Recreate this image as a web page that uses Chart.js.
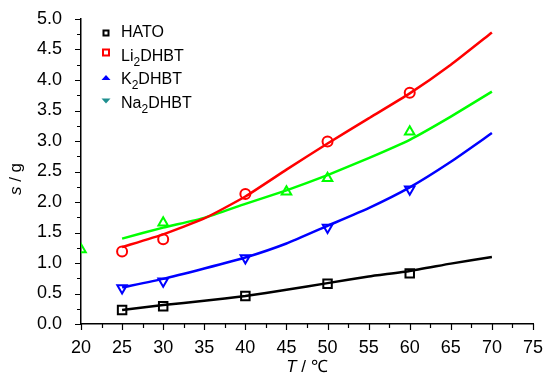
<!DOCTYPE html>
<html><head><meta charset="utf-8">
<script src="https://cdn.jsdelivr.net/npm/chart.js@4"></script>
<style>html,body{margin:0;padding:0;background:#fff}#wrap{width:545px;height:374px;position:relative}</style>
</head><body><div id="wrap"><canvas id="c" width="545" height="374"></canvas></div>
<script>
// ---- data ----
const lineT      = [25, 30, 35, 40, 45, 50, 55, 60, 65, 70];
const hatoLine   = [0.23, 0.31, 0.38, 0.46, 0.56, 0.67, 0.78, 0.87, 0.99, 1.10];
const liLine     = [1.26, 1.47, 1.73, 2.09, 2.53, 2.96, 3.37, 3.78, 4.25, 4.78];
const kLine      = [0.60, 0.74, 0.91, 1.09, 1.32, 1.61, 1.90, 2.24, 2.66, 3.13];
const naLine     = [1.40, 1.58, 1.74, 1.97, 2.19, 2.44, 2.72, 3.02, 3.40, 3.81];

const hatoMarkT  = [25, 30, 40, 50, 60];
const hatoMark   = [0.23, 0.29, 0.46, 0.66, 0.83];
const liMarkT    = [25, 30, 40, 50, 60];
const liMark     = [1.19, 1.39, 2.13, 2.99, 3.79];
const kMarkT     = [25, 30, 40, 50, 60];
const kMark      = [0.59, 0.70, 1.08, 1.58, 2.21];
const naMarkT    = [20, 30, 45, 50, 60];
const naMark     = [1.22, 1.66, 2.17, 2.39, 3.15];

const seriesNames = ['HATO', 'Li|2|DHBT', 'K|2|DHBT', 'Na|2|DHBT'];
const xMin = 20, xMax = 75, xMajor = 5, xMinor = 2.5;
const yMin = 0, yMax = 5, yMajor = 0.5, yMinor = 0.25;

const pts = (xs, ys) => xs.map((x, i) => ({x: x, y: ys[i]}));
const FONT = "'Liberation Sans', Arial, sans-serif";
const TFONT = "'Liberation Sans Narrow', 'Arial Narrow', 'Liberation Sans', Arial, sans-serif";

function lineDS(label, data, color) {
  return {label, data, borderColor: color, backgroundColor: color, borderWidth: 2.5,
    pointRadius: 0, tension: 0.15, fill: false, order: 2};
}
function markDS(label, data, color, style, rot, r) {
  return {label, data, showLine: false, borderColor: color, backgroundColor: 'rgba(0,0,0,0)',
    pointStyle: style, pointRotation: rot, pointRadius: r, pointBorderWidth: 2, order: 1};
}

const isMult = (v, s) => Math.abs(Math.round(v / s) * s - v) < 1e-6;

const tickPlugin = {
  id: 'ticks2',
  afterDraw(chart) {
    const ctx = chart.ctx, xs = chart.scales.x, ys = chart.scales.y;
    ctx.save();
    ctx.strokeStyle = '#000'; ctx.lineWidth = 1.2;
    ctx.beginPath();
    for (let v = xMin; v <= xMax + 1e-9; v += xMinor) {
      const px = Math.round(xs.getPixelForValue(v)) + 0.5;
      const len = isMult(v, xMajor) ? 6 : 4;
      ctx.moveTo(px, ys.bottom); ctx.lineTo(px, ys.bottom + len);
    }
    for (let v = yMin; v <= yMax + 1e-9; v += yMinor) {
      const py = Math.round(ys.getPixelForValue(v)) + 0.5;
      const len = isMult(v, yMajor) ? 6 : 4;
      ctx.moveTo(xs.left, py); ctx.lineTo(xs.left - len, py);
    }
    ctx.stroke();

    // axis titles
    ctx.fillStyle = '#000';
    ctx.textBaseline = 'alphabetic';
    const cx = (xs.left + xs.right) / 2;
    ctx.font = "italic 17px " + FONT;
    const wT = ctx.measureText('T').width;
    ctx.font = "17px " + FONT;
    const wR = ctx.measureText(' / ℃').width;
    let sx = cx - (wT + wR) / 2;
    ctx.font = "italic 17px " + FONT; ctx.fillText('T', sx, 372);
    ctx.font = "17px " + FONT; ctx.fillText(' / ℃', sx + wT, 372);
    ctx.save();
    ctx.translate(21, 179);
    ctx.rotate(-Math.PI / 2);
    ctx.font = "italic 17px " + FONT;
    const ws = ctx.measureText('s').width;
    ctx.font = "17px " + FONT;
    const wg = ctx.measureText(' / g').width;
    let sy = -(ws + wg) / 2;
    ctx.font = "italic 17px " + FONT; ctx.fillText('s', sy, 0);
    ctx.font = "17px " + FONT; ctx.fillText(' / g', sy + ws, 0);
    ctx.restore();

    // legend
    const colors = ['#000000', '#ff0000', '#0000ff', '#1f8f8f'];
    const lx = xs.left + 25, tx = xs.left + 40;
    const rowY = [33, 56.5, 80, 103.5];
    for (let i = 0; i < 4; i++) {
      const y = rowY[i];
      const c = colors[i];
      ctx.fillStyle = c; ctx.strokeStyle = c;
      if (i === 0) {
        ctx.fillRect(lx - 3.5, y - 3.5, 7, 7);
        ctx.fillStyle = '#fff'; ctx.fillRect(lx - 1.5, y - 1.5, 3, 3);
      } else if (i === 1) {
        ctx.lineWidth = 2; ctx.strokeRect(lx - 3, y - 7, 6, 6);
      } else if (i === 2) {
        ctx.beginPath(); ctx.moveTo(lx - 4.5, y); ctx.lineTo(lx + 4.5, y); ctx.lineTo(lx, y - 5); ctx.closePath(); ctx.fill();
      } else {
        ctx.beginPath(); ctx.moveTo(lx - 4.5, y - 5); ctx.lineTo(lx + 4.5, y - 5); ctx.lineTo(lx, y); ctx.closePath(); ctx.fill();
      }
      ctx.fillStyle = '#000';
      ctx.textBaseline = 'middle';
      const parts = seriesNames[i].split('|');
      let px = tx;
      parts.forEach((p, k) => {
        if (k === 1) {
          ctx.font = "12px " + FONT; ctx.fillText(p, px, y + 6);
        } else {
          ctx.font = "16px " + FONT; ctx.fillText(p, px, y);
        }
        px += ctx.measureText(p).width;
      });
    }
    ctx.restore();
  }
};

new Chart(document.getElementById('c'), {
  type: 'line',
  data: {
    datasets: [
      lineDS('HATO', pts(lineT, hatoLine), '#000000'),
      lineDS('Li2DHBT', pts(lineT, liLine), '#ff0000'),
      lineDS('K2DHBT', pts(lineT, kLine), '#0000ff'),
      lineDS('Na2DHBT', pts(lineT, naLine), '#00ff00'),
      markDS('HATO pts', pts(hatoMarkT, hatoMark), '#000000', 'rect', 0, 6),
      markDS('Li2DHBT pts', pts(liMarkT, liMark), '#ff0000', 'circle', 0, 5),
      markDS('K2DHBT pts', pts(kMarkT, kMark), '#0000ff', 'triangle', 180, 5.5),
      markDS('Na2DHBT pts', pts(naMarkT, naMark), '#00ff00', 'triangle', 0, 5.5)
    ]
  },
  options: {
    responsive: false, animation: false, devicePixelRatio: 1,
    layout: {padding: {left: 0, right: 12, top: 19, bottom: 0}},
    plugins: {legend: {display: false}, tooltip: {enabled: false}},
    scales: {
      x: {
        type: 'linear', min: xMin, max: xMax,
        afterFit(s) { s.height = 50; s.paddingLeft = 0; s.paddingRight = 0; },
        ticks: {stepSize: xMinor, autoSkip: false, maxRotation: 0, padding: 7,
          color: '#000', font: {family: TFONT, size: 18},
          callback: v => isMult(v, xMajor) ? String(v) : ''},
        grid: {display: true, drawOnChartArea: false, drawTicks: true, tickLength: 6, tickColor: 'rgba(0,0,0,0)'},
        border: {display: true, color: '#000', width: 1.5}
      },
      y: {
        type: 'linear', min: yMin, max: yMax,
        afterFit(s) { s.width = 81; s.paddingTop = 0; s.paddingBottom = 0; },
        ticks: {stepSize: yMinor, autoSkip: false, padding: 13,
          color: '#000', font: {family: TFONT, size: 18},
          callback: v => isMult(v, yMajor) ? v.toFixed(1) : ''},
        grid: {display: true, drawOnChartArea: false, drawTicks: true, tickLength: 6, tickColor: 'rgba(0,0,0,0)'},
        border: {display: true, color: '#000', width: 1.5}
      }
    }
  },
  plugins: [tickPlugin]
});
</script></body></html>
